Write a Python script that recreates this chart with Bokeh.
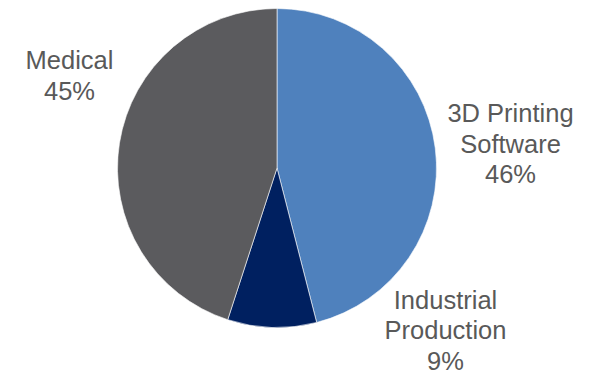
from math import pi
from bokeh.plotting import figure
from bokeh.models import ColumnDataSource, Range1d
from bokeh.core.properties import value
from bokeh.embed import file_html
from bokeh.resources import INLINE

# Data
categories = ["3D Printing Software", "Industrial Production", "Medical"]
shares = [46, 9, 45]
colors = ["#4F81BD", "#002060", "#5B5B5E"]
label_lines = [["3D Printing", "Software", "46%"],
               ["Industrial", "Production", "9%"],
               ["Medical", "45%"]]

# Layout (pixel-like data space)
W, H = 576, 375
cx, cy, r = 276.5, 207.5, 159.5
# label anchor: (center x, baseline y of first line)
label_anchor = [(510, 262.5), (445, 76), (69, 315.5)]
line_h = 30.5

total = float(sum(shares))
starts, ends = [], []
acc = 0.0
for s in shares:
    a0 = pi / 2 - 2 * pi * acc / total
    acc += s
    a1 = pi / 2 - 2 * pi * acc / total
    starts.append(a0)
    ends.append(a1)

src = ColumnDataSource(dict(cat=categories, start=starts, end=ends, color=colors))

p = figure(width=W, height=H, output_backend="svg", toolbar_location=None,
           x_range=Range1d(0, W), y_range=Range1d(0, H), min_border=0)
p.axis.visible = False
p.grid.visible = False
p.outline_line_color = None
p.background_fill_color = "white"

p.wedge(x=cx, y=cy, radius=r, start_angle="start", end_angle="end",
        direction="clock", fill_color="color", line_color="white",
        line_width=0.6, source=src)

tx, ty, tt = [], [], []
for (ax, ay), lines in zip(label_anchor, label_lines):
    for i, ln in enumerate(lines):
        tx.append(ax)
        ty.append(ay - i * line_h)
        tt.append(ln)

p.text(x=tx, y=ty, text=tt, text_align="center", text_baseline="alphabetic",
       text_font=value("Liberation Sans"), text_font_size="25.5px",
       text_color="#595959")

open("out.html", "w").write(file_html(p, INLINE))
